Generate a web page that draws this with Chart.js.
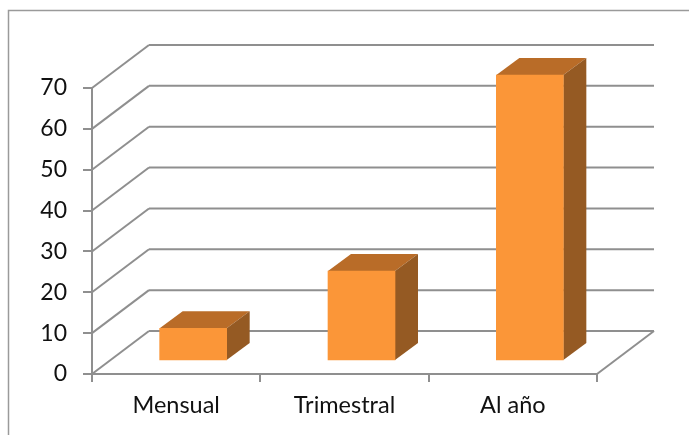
<!DOCTYPE html>
<html>
<head>
<meta charset="utf-8">
<style>
  html, body { margin: 0; padding: 0; background: #fff; overflow: hidden; }
  #wrap { position: absolute; left: 0; top: 0; width: 689px; height: 435px; }
</style>
<script src="https://cdn.jsdelivr.net/npm/chart.js@4"></script>
</head>
<body>
<div id="wrap"><canvas id="canvas" width="689" height="435"></canvas></div>
<script>
var categories = ["Mensual", "Trimestral", "Al año"];
var values = [8, 22, 70];
var tickValues = [0, 10, 20, 30, 40, 50, 60, 70];

var lineColor = "#8f8f8f";
var frontColor = "#fb9638";
var topColor = "#b96c28";
var sideColor = "#955a23";

// depth of the floor and of the bars, in px
var wallDx = 57, wallDy = -43;
var barShiftX = 17, barShiftY = -13;
var barDx = 23, barDy = -17;

function line(ctx, x1, y1, x2, y2) {
    ctx.beginPath();
    ctx.moveTo(x1, y1);
    ctx.lineTo(x2, y2);
    ctx.stroke();
}

function poly(ctx, pts, color) {
    ctx.fillStyle = color;
    ctx.beginPath();
    ctx.moveTo(pts[0][0], pts[0][1]);
    for (var i = 1; i < pts.length; i++) ctx.lineTo(pts[i][0], pts[i][1]);
    ctx.closePath();
    ctx.fill();
}

// side wall and back wall lines
var walls = {
    id: "walls",
    beforeDatasetsDraw: function (chart) {
        var ctx = chart.ctx, a = chart.chartArea, y = chart.scales.y;
        ctx.save();
        ctx.strokeStyle = lineColor;
        ctx.lineWidth = 2;
        tickValues.forEach(function (v) {
            var py = y.getPixelForValue(v);
            line(ctx, a.left, py, a.left + wallDx, py + wallDy);
            line(ctx, a.left + wallDx, py + wallDy, a.right + wallDx, py + wallDy);
        });
        line(ctx, a.right, a.bottom, a.right + wallDx, a.bottom + wallDy);
        ctx.restore();
    }
};

// the bar itself comes from Chart.js, shifted off the front edge; top and side are added here
var box3d = {
    id: "box3d",
    beforeDatasetDraw: function (chart, args) {
        var ctx = chart.ctx;
        ctx.save();
        ctx.translate(barShiftX, barShiftY);
        args.meta.data.forEach(function (bar) {
            var l = bar.x - bar.width / 2, r = bar.x + bar.width / 2;
            var t = bar.y, b = bar.base;
            poly(ctx, [[l, t], [r, t], [r + barDx, t + barDy], [l + barDx, t + barDy]], topColor);
            poly(ctx, [[r, t], [r + barDx, t + barDy], [r + barDx, b + barDy], [r, b]], sideColor);
        });
    },
    afterDatasetDraw: function (chart) {
        chart.ctx.restore();
    }
};

// top and left edges of the frame, the other two run off the canvas
var frame = {
    id: "frame",
    beforeDraw: function (chart) {
        var ctx = chart.ctx;
        ctx.save();
        ctx.strokeStyle = "#9a9a9a";
        ctx.lineWidth = 1.5;
        ctx.strokeRect(8.5, 10.5, 700, 500);
        ctx.restore();
    }
};

new Chart(document.getElementById("canvas").getContext("2d"), {
    type: "bar",
    data: {
        labels: categories,
        datasets: [{
            data: values,
            backgroundColor: frontColor,
            barThickness: 67,
            clip: false
        }]
    },
    options: {
        responsive: false,
        animation: false,
        layout: { padding: { left: 0, right: 92, top: 88, bottom: 0 } },
        plugins: { legend: { display: false }, tooltip: { enabled: false } },
        scales: {
            x: {
                afterFit: function (axis) { axis.height = 61; },
                grid: { display: true, drawOnChartArea: false, color: lineColor, lineWidth: 2, tickLength: 8, offset: true },
                border: { color: lineColor, width: 2 },
                ticks: { color: "#111", font: { family: "Lato", size: 23.5 }, padding: 9, maxRotation: 0 }
            },
            y: {
                min: 0,
                max: 70,
                afterFit: function (axis) { axis.width = 92; },
                afterBuildTicks: function (axis) {
                    axis.ticks = tickValues.map(function (v) { return { value: v }; });
                },
                grid: { display: true, drawOnChartArea: false, color: lineColor, lineWidth: 2, tickLength: 9 },
                border: { color: lineColor, width: 2 },
                ticks: { color: "#111", font: { family: "Lato", size: 23 }, padding: 16 }
            }
        }
    },
    plugins: [frame, walls, box3d]
});
</script>
</body>
</html>
